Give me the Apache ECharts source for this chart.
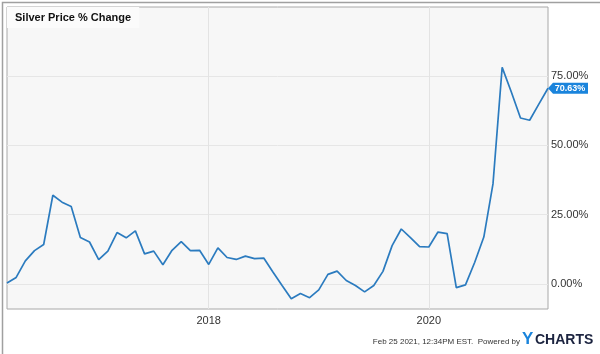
<!DOCTYPE html>
<html>
<head>
<meta charset="utf-8">
<style>
html,body{margin:0;padding:0;background:#fff;}
#c{width:600px;height:354px;}
</style>
<script src="https://cdn.jsdelivr.net/npm/echarts@6/dist/echarts.min.js"></script>
</head>
<body>
<div id="c"></div>
<script>
// Monthly points, Mar 2016 .. Feb 2021
const months = [];
(function(){
  let y = 2016, m = 3;
  for (let i = 0; i < 60; i++) {
    months.push(y + '-' + (m < 10 ? '0' + m : m));
    m++; if (m > 12) { m = 1; y++; }
  }
})();
const silverPct = [
  0.3, 2.3, 8.3, 12.0, 14.2, 32.0, 29.5, 27.9, 16.7, 15.1,
  8.7, 11.8, 18.5, 16.6, 19.1, 10.8, 11.8, 6.9, 12.1, 15.2,
  12.0, 12.1, 7.0, 13.0, 9.5, 8.8, 10.0, 9.1, 9.3, 4.3,
  -0.6, -5.4, -3.5, -5.0, -2.2, 3.4, 4.6, 1.2, -0.6, -2.9,
  -0.6, 4.5, 13.8, 19.8, 16.7, 13.4, 13.3, 18.7, 18.1, -1.4,
  -0.4, 7.7, 16.9, 36.1, 78.2, 69.3, 59.9, 59.1, 64.9, 70.63
];
const yTicks = [0, 25, 50, 75];
const xLabelMonths = ['2018-01', '2020-01'];
const titleText = 'Silver Price % Change';
const footerText = 'Feb 25 2021, 12:34PM EST.  Powered by';

const chart = echarts.init(document.getElementById('c'), null, {renderer: 'canvas'});
const last = silverPct.length - 1;
chart.setOption({
  animation: false,
  backgroundColor: '#ffffff',
  grid: {
    left: 7, top: 7, right: 52, bottom: 45,
    show: true, backgroundColor: '#f7f7f7', borderColor: '#a8a8a8', borderWidth: 1
  },
  title: {
    text: titleText,
    left: 7, top: 7,
    padding: [5, 8, 5, 8],
    backgroundColor: '#fbfbfb',
    textStyle: {fontFamily: 'Liberation Sans, Arial, sans-serif', fontSize: 11, fontWeight: 'bold', color: '#111'}
  },
  xAxis: {
    type: 'category',
    data: months,
    boundaryGap: false,
    axisLine: {show: false},
    axisTick: {show: false},
    axisLabel: {
      interval: (i, v) => xLabelMonths.indexOf(v) >= 0,
      formatter: v => v.slice(0, 4),
      color: '#333', fontSize: 11, fontFamily: 'Liberation Sans, Arial, sans-serif', margin: 6
    },
    splitLine: {show: true, interval: (i, v) => xLabelMonths.indexOf(v) >= 0, lineStyle: {color: '#e3e3e3', width: 1}}
  },
  yAxis: {
    type: 'value',
    position: 'right',
    min: -9.1, max: 100,
    axisLine: {show: false},
    axisTick: {show: false, customValues: yTicks},
    axisLabel: {
      customValues: yTicks,
      formatter: v => v.toFixed(2) + '%',
      color: '#333', fontSize: 11, fontFamily: 'Liberation Sans, Arial, sans-serif', margin: 3
    },
    splitLine: {show: true, lineStyle: {color: '#e6e6e6', width: 1}}
  },
  series: [{
    type: 'line',
    data: silverPct,
    symbol: 'none',
    lineStyle: {color: '#2b7bbf', width: 1.7},
    markPoint: {
      silent: true,
      symbol: 'path://M0,5.5 L5,0 L40,0 L40,11 L5,11 Z',
      symbolSize: [40, 11],
      symbolOffset: [20, 0],
      symbolKeepAspect: false,
      itemStyle: {color: '#1a84dc'},
      label: {show: true, formatter: p => p.value.toFixed(2) + '%', color: '#fff', fontWeight: 'bold', fontSize: 9, fontFamily: 'Liberation Sans, Arial, sans-serif', offset: [2, 0]},
      data: [{coord: [last, silverPct[last]], value: silverPct[last]}]
    }
  }],
  graphic: [
    {type: 'rect', left: 0, top: 0, z: 100, silent: true,
     shape: {x: 0.5, y: 0.5, width: 599, height: 353},
     style: {fill: 'none', stroke: '#a0a0a0', lineWidth: 1.5}},
    {type: 'text', right: 80, top: 338, z: 100,
     style: {text: footerText, fill: '#333', font: '8px Liberation Sans, Arial, sans-serif'}},
    {type: 'text', left: 522, top: 331, z: 100,
     style: {text: 'Y', fill: '#1a84dc', font: 'bold 17px Liberation Sans, Arial, sans-serif'}},
    {type: 'text', left: 535, top: 333, z: 100,
     style: {text: 'CHARTS', fill: '#1c2440', font: 'bold 14px Liberation Sans, Arial, sans-serif'}}
  ]
});
</script>
</body>
</html>
